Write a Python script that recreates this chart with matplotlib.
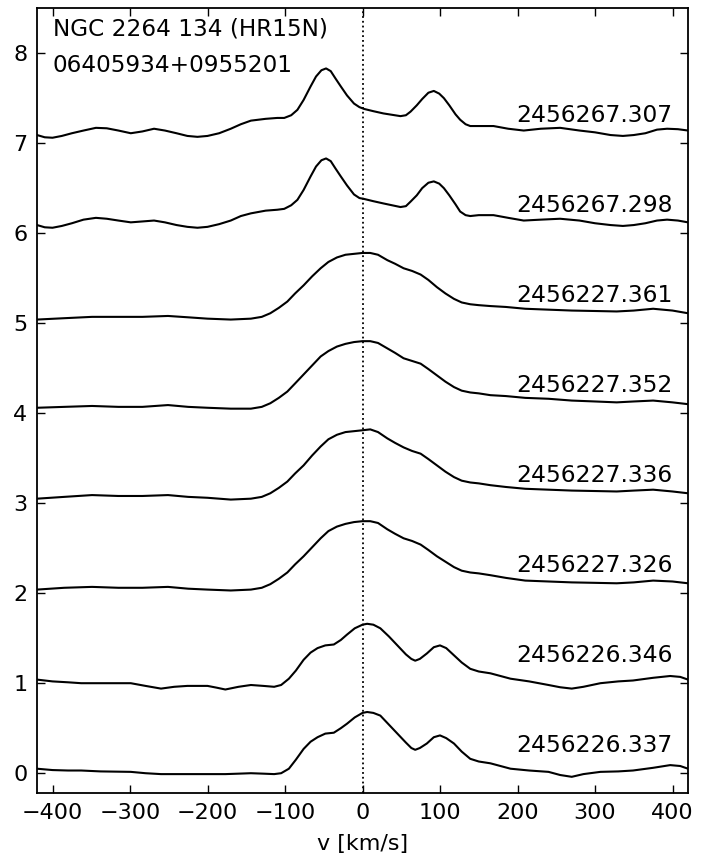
import matplotlib
matplotlib.use("Agg")
import matplotlib.pyplot as plt

# velocity grids and fluxes (offset already included), bottom to top
v_lo = [-420, -400, -380, -363, -338, -299, -280, -260, -243, -226,
        -200, -188, -177, -160, -144, -128, -114, -105, -95, -86,
        -76, -67, -58, -48, -37, -28, -20, -10, 0, 6,
        14, 23, 34, 45, 56, 63, 68, 74, 83, 92,
        100, 108, 118, 128, 139, 150, 165, 191, 215, 240,
        255, 270, 285, 307, 330, 349, 375, 397, 410, 420]
f0 = [0.05, 0.035, 0.03, 0.03, 0.02, 0.015, 0.0, -0.01, -0.01, -0.01,
      -0.01, -0.01, -0.01, -0.005, 0.0, -0.005, -0.01, 0.0, 0.05, 0.15,
      0.27, 0.35, 0.40, 0.44, 0.45, 0.50, 0.55, 0.62, 0.67, 0.68,
      0.67, 0.64, 0.54, 0.44, 0.34, 0.28, 0.26, 0.28, 0.33, 0.40,
      0.42, 0.39, 0.33, 0.24, 0.16, 0.13, 0.11, 0.05, 0.03, 0.015,
      -0.02, -0.04, -0.01, 0.015, 0.02, 0.03, 0.06, 0.09, 0.08, 0.05]
f1 = [1.04, 1.02, 1.01, 1.00, 1.00, 1.00, 0.97, 0.94, 0.96, 0.97,
      0.97, 0.95, 0.93, 0.96, 0.98, 0.97, 0.96, 0.98, 1.05, 1.14,
      1.26, 1.34, 1.39, 1.42, 1.43, 1.48, 1.54, 1.61, 1.65, 1.66,
      1.65, 1.61, 1.52, 1.42, 1.32, 1.27, 1.25, 1.27, 1.33, 1.40,
      1.42, 1.39, 1.31, 1.23, 1.16, 1.13, 1.11, 1.05, 1.02, 0.98,
      0.955, 0.94, 0.96, 1.00, 1.02, 1.03, 1.06, 1.08, 1.07, 1.04]

v_mid = [-420, -385, -349, -315, -284, -251, -225, -200, -170, -144,
         -130, -119, -108, -97, -87, -76, -65, -54, -44, -33,
         -22, -11, 0, 10, 20, 32, 42, 53, 64, 75,
         85, 96, 107, 118, 128, 139, 150, 165, 185, 210,
         240, 270, 300, 328, 350, 375, 400, 420]
f2 = [2.04, 2.06, 2.07, 2.06, 2.06, 2.07, 2.05, 2.04, 2.03, 2.04,
      2.06, 2.10, 2.16, 2.23, 2.32, 2.41, 2.51, 2.61, 2.69, 2.74,
      2.77, 2.79, 2.80, 2.80, 2.78, 2.71, 2.66, 2.61, 2.58, 2.54,
      2.48, 2.41, 2.35, 2.29, 2.25, 2.23, 2.22, 2.20, 2.17, 2.14,
      2.13, 2.12, 2.115, 2.11, 2.12, 2.14, 2.13, 2.11]
f3 = [3.05, 3.07, 3.09, 3.08, 3.08, 3.09, 3.07, 3.06, 3.04, 3.05,
      3.07, 3.11, 3.17, 3.24, 3.33, 3.42, 3.53, 3.63, 3.71, 3.76,
      3.79, 3.80, 3.81, 3.82, 3.79, 3.72, 3.67, 3.62, 3.58, 3.55,
      3.49, 3.42, 3.35, 3.29, 3.25, 3.23, 3.22, 3.20, 3.18, 3.16,
      3.15, 3.14, 3.135, 3.13, 3.14, 3.15, 3.13, 3.11]
f4 = [4.06, 4.07, 4.08, 4.07, 4.07, 4.09, 4.07, 4.06, 4.05, 4.05,
      4.07, 4.11, 4.17, 4.24, 4.33, 4.43, 4.53, 4.63, 4.69, 4.74,
      4.77, 4.79, 4.80, 4.80, 4.78, 4.72, 4.67, 4.61, 4.58, 4.55,
      4.49, 4.42, 4.35, 4.29, 4.25, 4.23, 4.22, 4.20, 4.19, 4.17,
      4.16, 4.14, 4.13, 4.12, 4.13, 4.14, 4.12, 4.10]
f5 = [5.04, 5.055, 5.07, 5.07, 5.07, 5.08, 5.065, 5.05, 5.04, 5.05,
      5.07, 5.11, 5.17, 5.24, 5.33, 5.42, 5.52, 5.61, 5.68, 5.73,
      5.76, 5.77, 5.78, 5.78, 5.76, 5.70, 5.66, 5.61, 5.58, 5.54,
      5.48, 5.40, 5.33, 5.27, 5.23, 5.21, 5.20, 5.19, 5.18, 5.16,
      5.15, 5.14, 5.135, 5.13, 5.14, 5.16, 5.14, 5.11]

v_hi = [-420, -410, -400, -388, -375, -360, -344, -330, -315, -299,
        -284, -269, -255, -240, -226, -213, -200, -185, -170, -157,
        -144, -125, -110, -101, -92, -84, -76, -67, -60, -53,
        -47, -41, -35, -28, -20, -11, -4, 2, 14, 27,
        38, 49, 56, 62, 70, 77, 85, 92, 99, 105,
        112, 120, 126, 133, 139, 150, 169, 188, 208, 230,
        255, 280, 300, 320, 336, 350, 365, 380, 393, 407, 420]
f6 = [6.09, 6.065, 6.06, 6.08, 6.11, 6.15, 6.17, 6.16, 6.14, 6.12,
      6.13, 6.14, 6.12, 6.09, 6.07, 6.06, 6.07, 6.10, 6.14, 6.19,
      6.22, 6.25, 6.26, 6.27, 6.31, 6.37, 6.48, 6.63, 6.74, 6.81,
      6.83, 6.80, 6.72, 6.63, 6.53, 6.43, 6.39, 6.38, 6.355, 6.33,
      6.31, 6.29, 6.30, 6.35, 6.42, 6.50, 6.56, 6.575, 6.55, 6.50,
      6.42, 6.32, 6.24, 6.20, 6.19, 6.20, 6.20, 6.17, 6.14, 6.15,
      6.16, 6.14, 6.11, 6.09, 6.08, 6.09, 6.11, 6.14, 6.15, 6.14, 6.12]
f7 = [7.09, 7.065, 7.06, 7.08, 7.11, 7.14, 7.17, 7.165, 7.14, 7.11,
      7.13, 7.16, 7.14, 7.11, 7.08, 7.07, 7.08, 7.11, 7.16, 7.21,
      7.25, 7.27, 7.28, 7.28, 7.31, 7.37, 7.48, 7.63, 7.74, 7.81,
      7.83, 7.80, 7.72, 7.63, 7.53, 7.44, 7.40, 7.38, 7.355, 7.33,
      7.315, 7.30, 7.31, 7.35, 7.42, 7.49, 7.56, 7.58, 7.55, 7.50,
      7.42, 7.32, 7.26, 7.21, 7.19, 7.19, 7.19, 7.16, 7.14, 7.16,
      7.17, 7.14, 7.12, 7.09, 7.08, 7.09, 7.11, 7.15, 7.16, 7.155, 7.14]

spectra = [(v_lo, f0), (v_lo, f1), (v_mid, f2), (v_mid, f3),
           (v_mid, f4), (v_mid, f5), (v_hi, f6), (v_hi, f7)]
dates = ["2456226.337", "2456226.346", "2456227.326", "2456227.336",
         "2456227.352", "2456227.361", "2456267.298", "2456267.307"]

plt.rc('font', family='DejaVu Sans', size=16)
fig = plt.figure(figsize=(7.16, 8.55), dpi=100)
ax = fig.add_axes([0.0517, 0.0725, 0.9092, 0.918])

for i, (v, f) in enumerate(spectra):
    ax.plot(v, f, color='black', lw=1.5, solid_joinstyle='round')
    ax.text(400, i + 0.24, dates[i], ha='right', va='baseline', fontsize=16.8)

ax.axvline(0, color='black', ls=':', lw=1.3)

ax.text(-400, 8.2, "NGC 2264 134 (HR15N)", ha='left', va='baseline', fontsize=16.7)
ax.text(-400, 7.79, "06405934+0955201", ha='left', va='baseline', fontsize=16.7)

ax.set_xlim(-420, 420)
ax.set_ylim(-0.22, 8.5)
ax.set_xticks([-400, -300, -200, -100, 0, 100, 200, 300, 400])
ax.set_yticks(range(0, 9))
ax.tick_params(direction='in', length=5.5, width=1, top=True, right=True, pad=7)
for s in ax.spines.values():
    s.set_linewidth(1.3)
ax.set_xlabel("v [km/s]", labelpad=8)

fig.savefig("out.png", dpi=100)
